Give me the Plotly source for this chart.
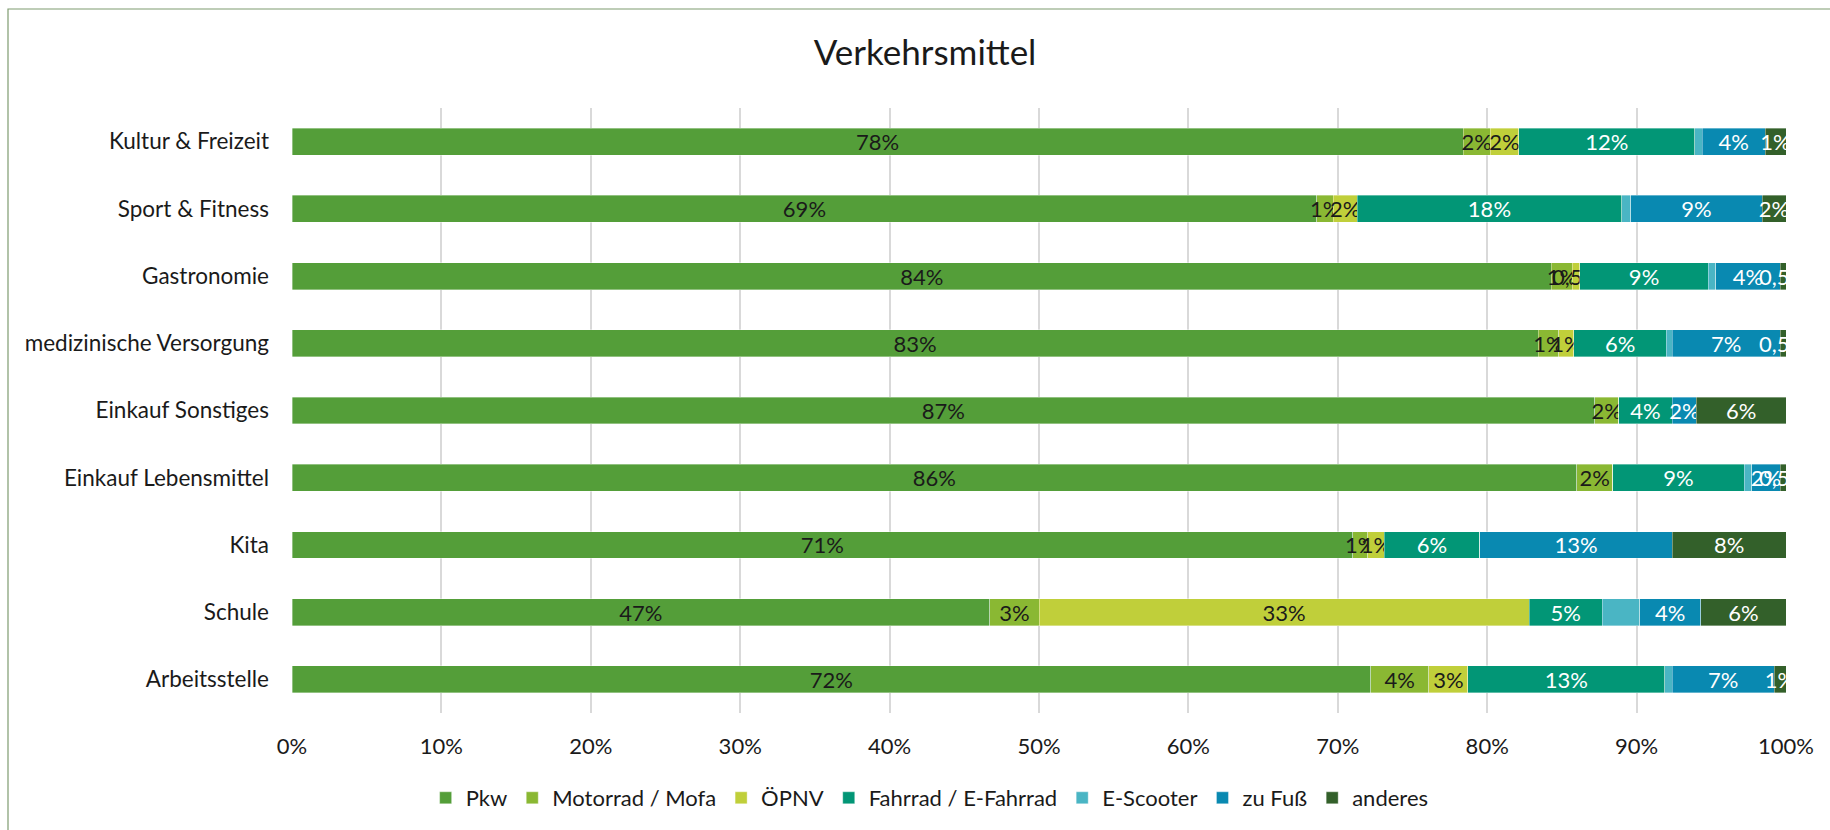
import plotly.graph_objects as go

# categories from bottom to top
categories = ["Arbeitsstelle", "Schule", "Kita", "Einkauf Lebensmittel", "Einkauf Sonstiges",
              "medizinische Versorgung", "Gastronomie", "Sport & Fitness", "Kultur & Freizeit"]

pkw = [72.2, 46.7, 71.0, 86.0, 87.2, 83.4, 84.3, 68.6, 78.4]
motorrad = [3.9, 3.3, 1.0, 2.4, 1.6, 1.4, 1.4, 1.1, 1.8]
oepnv = [2.6, 32.8, 1.1, 0.0, 0.0, 1.0, 0.5, 1.6, 1.9]
fahrrad = [13.2, 4.9, 6.4, 8.8, 3.6, 6.2, 8.6, 17.7, 11.8]
escooter = [0.5, 2.5, 0.0, 0.5, 0.0, 0.4, 0.5, 0.6, 0.5]
zufuss = [6.8, 4.1, 12.9, 1.9, 1.6, 7.2, 4.3, 8.8, 4.2]
anderes = [0.8, 5.7, 7.6, 0.4, 6.0, 0.4, 0.4, 1.6, 1.4]

tick_vals = list(range(0, 101, 10))
tick_text = [f"{v}%" for v in tick_vals]

FONT = "Lato"


def label(v):
    if v == 0:
        return ""
    v = round(v * 2) / 2 if v < 1 else round(v)
    return f"{v:g}".replace(".", ",") + "%"


series = [
    ("Pkw", pkw, "#549E39", "#1a1a1a", True),
    ("Motorrad / Mofa", motorrad, "#8AB833", "#1a1a1a", True),
    ("ÖPNV", oepnv, "#C0CF3A", "#1a1a1a", True),
    ("Fahrrad / E-Fahrrad", fahrrad, "#029676", "white", True),
    ("E-Scooter", escooter, "#4AB5C4", "white", False),
    ("zu Fuß", zufuss, "#0989B1", "white", True),
    ("anderes", anderes, "#33602A", "white", True),
]

fig = go.Figure()
for name, vals, color, tcolor, show_text in series:
    fig.add_trace(go.Bar(
        y=categories, x=vals, name=name, orientation="h",
        marker=dict(color=color, line=dict(color="rgba(255,255,255,0.6)", width=0.6)),
        text=[label(v) for v in vals] if show_text else None,
        textposition="inside", insidetextanchor="middle", textangle=0,
        textfont=dict(family=FONT, size=22, color=tcolor),
        constraintext="none",
    ))

fig.update_layout(
    barmode="stack",
    bargap=0.6,
    width=1830,
    height=830,
    paper_bgcolor="white",
    plot_bgcolor="white",
    font=dict(family=FONT, size=22, color="#1a1a1a"),
    title=dict(text="Verkehrsmittel", font=dict(family=FONT, size=35, color="#1a1a1a"),
               xref="container", x=0.5055, xanchor="center",
               yref="container", y=0.936, yanchor="middle"),
    margin=dict(l=292, r=44, t=108, b=117),
    uniformtext=dict(minsize=22, mode="show"),
    legend=dict(orientation="h", xref="container", x=0.508, xanchor="center",
                yref="container", y=1 - 798 / 830, yanchor="middle",
                font=dict(family=FONT, size=22, color="#1a1a1a"),
                traceorder="normal"),
    shapes=[dict(type="rect", xref="paper", yref="paper",
                 x0=(8 - 292) / 1494, x1=1.2, y0=-0.3, y1=1 + (108 - 9) / 605,
                 line=dict(color="#7F9C70", width=1.2), fillcolor="rgba(0,0,0,0)")],
)
fig.update_xaxes(range=[0, 100], tickvals=tick_vals, ticktext=tick_text,
                 showgrid=True, gridcolor="#D9D9D9", gridwidth=1.5,
                 zeroline=False, showline=False, ticks="", ticklabelstandoff=18,
                 tickfont=dict(family=FONT, size=22, color="#1a1a1a"))
fig.update_yaxes(showgrid=False, showline=False, ticks="", ticklabelstandoff=22,
                 tickfont=dict(family=FONT, size=22.5, color="#1a1a1a"))

fig.write_html("out.html", config={"displayModeBar": False},
               post_script="document.body.style.margin='0';")
